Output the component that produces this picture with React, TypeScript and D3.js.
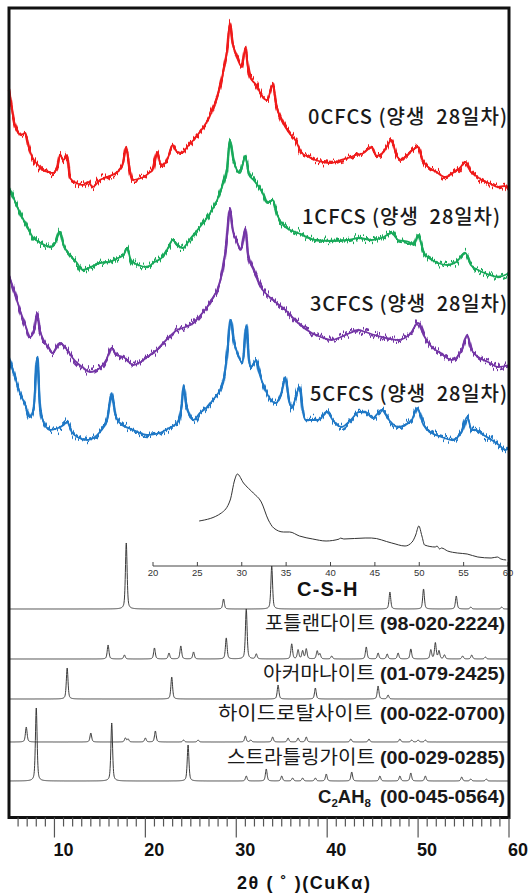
import React from "react";
import * as d3 from "d3";

const W = 529;
const H = 895;

// Measured XRD patterns: [2θ (deg), stacked intensity (a.u.)]
const scan0CFCS: [number, number][] = [
  [5.0, 729], [5.7, 690], [6.3, 682], [6.8, 684], [7.2, 669], [7.6, 659], [8.2, 652], [8.7, 647],
  [9.3, 645], [9.8, 644], [10.3, 649], [10.6, 662], [11.0, 657], [11.4, 662], [11.7, 639], [12.4, 634],
  [13.1, 632], [13.7, 635], [14.2, 630], [15.0, 637], [15.8, 640], [16.9, 645], [17.5, 652], [17.9, 670],
  [18.3, 647], [18.6, 637], [19.2, 638], [19.8, 640], [20.4, 644], [20.8, 647], [21.3, 665], [21.7, 652],
  [22.2, 654], [22.6, 662], [23.0, 672], [23.5, 665], [24.0, 664], [24.6, 670], [25.3, 677], [25.9, 684],
  [26.4, 690], [27.0, 699], [27.5, 710], [27.9, 720], [28.2, 730], [28.6, 747], [29.0, 767], [29.3, 794],
  [29.6, 774], [30.0, 762], [30.6, 750], [31.0, 769], [31.3, 749], [31.5, 740], [32.2, 732], [32.9, 720],
  [33.4, 717], [34.0, 732], [34.4, 712], [35.0, 697], [35.4, 690], [36.0, 682], [36.5, 677], [37.2, 664],
  [38.0, 660], [38.7, 657], [39.5, 655], [40.5, 654], [41.5, 657], [42.3, 659], [43.2, 662], [44.0, 664],
  [44.9, 670], [45.4, 661], [46.2, 665], [47.1, 677], [47.6, 662], [48.2, 657], [48.6, 660], [49.4, 667],
  [50.0, 670], [50.5, 657], [51.1, 650], [52.0, 645], [53.0, 640], [53.8, 644], [54.6, 649], [55.2, 655],
  [55.8, 645], [56.4, 641], [57.0, 637], [58.0, 633], [58.8, 630], [59.5, 631], [60.0, 627],
];

const scan1CFCS: [number, number][] = [
  [5.0, 629], [5.6, 617], [6.2, 604], [6.9, 592], [7.6, 580], [8.5, 574], [9.5, 570], [10.1, 574],
  [10.6, 585], [11.0, 572], [11.7, 562], [12.4, 555], [13.1, 547], [14.0, 550], [15.0, 554], [16.0, 555],
  [17.0, 559], [17.6, 562], [18.0, 569], [18.4, 557], [19.2, 552], [20.2, 550], [21.0, 555], [21.9, 560],
  [22.5, 569], [23.0, 577], [23.5, 572], [24.1, 569], [25.0, 579], [26.0, 590], [27.0, 602], [27.9, 617],
  [28.5, 632], [29.0, 650], [29.3, 677], [29.7, 657], [30.4, 644], [31.0, 660], [31.4, 642], [31.9, 637],
  [32.9, 624], [33.4, 614], [34.0, 617], [34.5, 602], [35.4, 590], [36.8, 584], [38.7, 577], [40.5, 576],
  [42.3, 577], [43.5, 579], [44.9, 577], [46.0, 579], [47.1, 584], [47.8, 577], [49.0, 575], [49.5, 572],
  [50.0, 582], [50.6, 565], [51.2, 559], [52.2, 554], [53.2, 552], [54.2, 555], [55.2, 564], [55.8, 552],
  [56.6, 547], [57.6, 543], [58.8, 540], [60.0, 544],
];

const scan3CFCS: [number, number][] = [
  [5.0, 542], [5.6, 525], [6.2, 507], [6.8, 492], [7.3, 480], [7.8, 487], [8.1, 504], [8.4, 487],
  [8.8, 477], [9.3, 470], [9.8, 464], [10.6, 474], [11.4, 467], [12.0, 459], [12.5, 454], [13.2, 449],
  [13.9, 445], [15.0, 449], [15.7, 457], [16.3, 469], [16.8, 462], [17.6, 460], [18.7, 452], [19.5, 455],
  [20.2, 460], [21.0, 465], [21.6, 470], [22.5, 479], [23.5, 487], [24.4, 490], [25.3, 494], [26.0, 501],
  [26.8, 510], [27.4, 519], [27.9, 527], [28.5, 547], [28.9, 572], [29.3, 607], [29.6, 587], [30.0, 577],
  [30.5, 567], [31.0, 589], [31.3, 562], [31.9, 547], [32.9, 527], [33.2, 524], [34.3, 515], [35.4, 507],
  [36.8, 494], [38.3, 484], [39.3, 480], [40.5, 477], [41.5, 480], [42.5, 484], [43.4, 487], [44.2, 485],
  [45.2, 482], [46.5, 479], [47.8, 477], [49.2, 484], [50.0, 494], [50.6, 482], [51.5, 470], [52.5, 464],
  [53.7, 457], [54.8, 467], [55.4, 482], [55.9, 467], [56.6, 460], [57.7, 455], [58.8, 450], [60.0, 452],
];

const scan5CFCS: [number, number][] = [
  [5.0, 460], [5.6, 442], [6.2, 424], [6.8, 412], [7.3, 400], [7.7, 407], [8.1, 460], [8.4, 412],
  [8.6, 400], [9.5, 387], [10.4, 389], [11.0, 392], [11.4, 395], [11.9, 385], [12.5, 380], [13.6, 377],
  [15.0, 385], [15.8, 397], [16.3, 424], [16.7, 402], [17.2, 394], [18.7, 387], [20.2, 382], [21.6, 384],
  [22.6, 389], [23.5, 394], [24.0, 412], [24.2, 432], [24.5, 412], [25.3, 397], [26.0, 404], [26.8, 410],
  [27.6, 419], [28.2, 427], [28.7, 442], [29.0, 464], [29.4, 497], [29.7, 477], [30.0, 467], [30.7, 454],
  [31.1, 492], [31.4, 457], [31.6, 450], [32.2, 457], [32.5, 445], [32.9, 434], [33.2, 427], [34.3, 414],
  [34.9, 422], [35.4, 440], [35.8, 417], [36.1, 410], [37.0, 430], [37.3, 407], [37.6, 397], [39.0, 397],
  [40.0, 405], [40.6, 397], [41.6, 390], [42.6, 397], [43.5, 405], [44.2, 405], [45.0, 399], [46.0, 407],
  [46.8, 397], [47.8, 390], [49.3, 397], [49.9, 409], [50.6, 392], [51.5, 384], [52.6, 380], [53.7, 377],
  [54.8, 385], [55.4, 400], [55.9, 387], [56.3, 387], [57.2, 382], [58.1, 377], [58.9, 372], [59.6, 367],
  [60.0, 370],
];

const scanNames = ["0CFCS (양생  28일차)", "1CFCS (양생  28일차)", "3CFCS (양생  28일차)", "5CFCS (양생  28일차)"];
const scanColors = ["#ef1a1a", "#18a95a", "#7436a6", "#1f78c6"];

// Reference patterns: [2θ (deg), relative intensity]
const peaksPortlandite: [number, number][] = [
  [17.9, 66], [28.6, 10], [33.9, 43], [46.9, 17], [50.6, 20], [54.2, 13], [55.8, 2], [59.2, 2],
];
const peaksAkermanite: [number, number][] = [
  [15.9, 14], [17.7, 4], [21.0, 11], [22.6, 6], [23.9, 13], [25.3, 7], [28.9, 21], [31.1, 50],
  [32.2, 5], [36.1, 15], [36.8, 9], [37.3, 8], [37.7, 10], [38.9, 8], [39.2, 5], [40.5, 3],
  [44.3, 12], [45.6, 6], [46.6, 5], [47.8, 6], [49.2, 10], [51.4, 9], [51.9, 16], [52.3, 8],
  [52.9, 4], [54.9, 3], [55.9, 4], [57.4, 2],
];
const peaksHydrotalcite: [number, number][] = [
  [11.4, 31], [22.9, 22], [34.6, 14], [38.7, 11], [45.6, 13], [46.7, 4],
];
const peaksStratlingite: [number, number][] = [
  [6.9, 15], [14.0, 9], [17.8, 4], [18.1, 3], [20.0, 4], [21.1, 11], [24.2, 2], [25.8, 2],
  [31.0, 6], [31.6, 2], [34.0, 5], [35.7, 4], [36.8, 4], [37.7, 5], [42.6, 3], [44.6, 3],
  [48.0, 3], [49.3, 2], [50.0, 2], [50.8, 2],
];
const peaksC2AH8: [number, number][] = [
  [8.0, 73], [16.3, 58], [24.7, 36], [31.1, 5], [33.3, 12], [35.0, 5], [36.2, 3], [37.3, 3],
  [38.7, 3], [39.9, 7], [42.7, 9], [45.8, 5], [48.0, 5], [49.2, 8], [50.8, 5], [54.8, 4],
  [55.8, 2], [57.5, 2],
];
const refPatterns = [peaksPortlandite, peaksAkermanite, peaksHydrotalcite, peaksStratlingite, peaksC2AH8];
const refOffsets = [208, 158, 118, 75, 36];

const refNames = ["포틀랜다이트", "아커마나이트", "하이드로탈사이트", "스트라틀링가이트"];
const refCards = ["(98-020-2224)", "(01-079-2425)", "(00-022-0700)", "(00-029-0285)"];

// C-S-H pattern shown in the inset: [2θ (deg), intensity]
const cshScan: [number, number][] = [
  [25.2, 45], [27.7, 53], [28.7, 66], [29.2, 86], [29.5, 92], [30.2, 83], [31.3, 73], [32.2, 64],
  [33.0, 46], [33.6, 38], [34.7, 34], [35.4, 34], [36.5, 30], [38.0, 27], [39.5, 25], [41.0, 27],
  [41.1, 28], [41.5, 27], [43.9, 28], [44.6, 28], [46.9, 23], [48.4, 20], [49.2, 24], [49.6, 31],
  [49.95, 40], [50.3, 30], [50.6, 21], [51.8, 19], [52.0, 20], [52.3, 17], [52.5, 18], [53.2, 15],
  [54.3, 13], [55.4, 12], [56.6, 9], [58.1, 8], [58.8, 9], [59.2, 7], [59.8, 6],
];

const xTicks = [10, 20, 30, 40, 50, 60];
const insetTicks = [20, 25, 30, 35, 40, 45, 50, 55, 60];

// layout
const plot = { left: 9, right: 509, top: 8, bottom: 817.5 };
const sampleLabelPos = [
  { x: 308, y: 124, len: 199 },
  { x: 302, y: 224, len: 198 },
  { x: 310, y: 311, len: 197 },
  { x: 310, y: 401, len: 197 },
];
const refLabelPos = [
  { x: 265, y: 630, len: 110 },
  { x: 263, y: 680, len: 112 },
  { x: 218, y: 720, len: 155 },
  { x: 227, y: 764, len: 148 },
];
const cardLabel = { x: 380, len: 125 };

const x = d3.scaleLinear().domain([5, 60]).range([plot.left, plot.right]);
const y = d3.scaleLinear().domain([0, 810]).range([817, 7]);
const xi = d3.scaleLinear().domain([20, 60]).range([153, 508]);
const yi = d3.scaleLinear().domain([0, 100]).range([566, 466]);

const scanLine = d3
  .line<[number, number]>()
  .x((d) => x(d[0]))
  .y((d) => y(d[1]))
  .curve(d3.curveMonotoneX);

const insetLine = d3
  .line<[number, number]>()
  .x((d) => xi(d[0]))
  .y((d) => yi(d[1]))
  .curve(d3.curveMonotoneX);

// pseudo-Voigt peak profile used to render the stick-pattern cards
function profilePath(peaks: [number, number][], offset: number): string {
  const hw = 0.11;
  const eta = 0.5;
  const grid = d3.range(5, 60.0001, 0.02);
  const pts: [number, number][] = grid.map((t) => {
    let s = 0;
    for (const [p, h] of peaks) {
      const u = (t - p) / hw;
      s += h * (eta / (1 + u * u) + (1 - eta) * Math.exp(-Math.LN2 * u * u));
    }
    return [t, offset + s];
  });
  return d3.line<[number, number]>().x((d) => x(d[0])).y((d) => y(d[1]))(pts) || "";
}

const sans = "'Liberation Sans', Arial, sans-serif";
const kr = "'Noto Sans CJK KR', sans-serif";

export default function App() {
  const minor = d3.range(6, 60, 1).filter((v) => v % 10 !== 0);
  const scans = [scan0CFCS, scan1CFCS, scan3CFCS, scan5CFCS];
  return (
    <svg
      width={W}
      height={H}
      viewBox={`0 0 ${W} ${H}`}
      style={{ position: "absolute", left: 0, top: 0, background: "#fff" }}
    >
      <defs>
        <filter
          id="counting-noise"
          filterUnits="userSpaceOnUse"
          x={0}
          y={0}
          width={W}
          height={H}
          colorInterpolationFilters="sRGB"
        >
          <feTurbulence type="fractalNoise" baseFrequency="0.6 0.02" numOctaves={2} seed={7} result="turb" />
          <feColorMatrix
            in="turb"
            type="matrix"
            values="0 0 0 0 0.5  1 0 0 0 0  0 0 0 0 0  0 0 0 0 1"
            result="map"
          />
          <feDisplacementMap in="SourceGraphic" in2="map" scale={15} xChannelSelector="R" yChannelSelector="G" />
        </filter>
      </defs>

      <rect x={0} y={0} width={W} height={H} fill="#fff" />

      {/* sample scans: trace plus counting-noise texture */}
      {scans.map((s, i) => {
        const d = scanLine(s) || "";
        return (
          <g key={i}>
            <path d={d} fill="none" stroke={scanColors[i]} strokeWidth={1.8} />
            <g filter="url(#counting-noise)">
              <path d={d} fill="none" stroke={scanColors[i]} strokeWidth={2.4} />
            </g>
          </g>
        );
      })}

      {/* sample labels */}
      {scanNames.map((n, i) => (
        <text
          key={n}
          x={sampleLabelPos[i].x}
          y={sampleLabelPos[i].y}
          textLength={sampleLabelPos[i].len}
          lengthAdjust="spacing"
          fontFamily={kr}
          fontSize={20}
          fontWeight={500}
          fill="#1a1a1a"
          style={{ whiteSpace: "pre" }}
        >
          {n}
        </text>
      ))}

      {/* C-S-H inset */}
      <g>
        <line x1={xi(20)} x2={xi(60)} y1={yi(0)} y2={yi(0)} stroke="#444" strokeWidth={1} />
        {insetTicks.map((t) => (
          <g key={t}>
            <line x1={xi(t)} x2={xi(t)} y1={yi(0) - 4} y2={yi(0)} stroke="#444" strokeWidth={1} />
            <text x={xi(t)} y={yi(0) + 10} textAnchor="middle" fontFamily={sans} fontSize={9.5} fill="#333">
              {t}
            </text>
          </g>
        ))}
        <path d={insetLine(cshScan) || ""} fill="none" stroke="#333" strokeWidth={1} />
      </g>

      {/* reference cards */}
      {refPatterns.map((p, i) => (
        <path key={i} d={profilePath(p, refOffsets[i])} fill="none" stroke="#3a3a3a" strokeWidth={1} />
      ))}

      <text x={297} y={596} fontFamily={sans} fontWeight="bold" fontSize={20} letterSpacing={1.2} fill="#111">
        C-S-H
      </text>
      {refNames.map((n, i) => (
        <g key={n}>
          <text
            x={refLabelPos[i].x}
            y={refLabelPos[i].y}
            textLength={refLabelPos[i].len}
            lengthAdjust="spacingAndGlyphs"
            fontFamily={kr}
            fontSize={19}
            fill="#1a1a1a"
          >
            {n}
          </text>
          <text
            x={cardLabel.x}
            y={refLabelPos[i].y}
            textLength={cardLabel.len}
            lengthAdjust="spacingAndGlyphs"
            fontFamily={sans}
            fontWeight="bold"
            fontSize={18.5}
            fill="#1a1a1a"
          >
            {refCards[i]}
          </text>
        </g>
      ))}
      <text x={318} y={803} fontFamily={sans} fontWeight="bold" fontSize={18.5} fill="#1a1a1a">
        C<tspan fontSize={11.5} dy={4}>2</tspan>
        <tspan dy={-4}>AH</tspan>
        <tspan fontSize={11.5} dy={4}>8</tspan>
      </text>
      <text
        x={cardLabel.x}
        y={803}
        textLength={cardLabel.len}
        lengthAdjust="spacingAndGlyphs"
        fontFamily={sans}
        fontWeight="bold"
        fontSize={18.5}
        fill="#1a1a1a"
      >
        (00-045-0564)
      </text>

      {/* frame */}
      <rect
        x={plot.left}
        y={plot.top}
        width={plot.right - plot.left}
        height={plot.bottom - plot.top}
        fill="none"
        stroke="#111"
        strokeWidth={3}
      />

      {/* bottom axis */}
      {minor.map((t) => (
        <line key={t} x1={x(t)} x2={x(t)} y1={plot.bottom} y2={plot.bottom + 9} stroke="#555" strokeWidth={1.2} />
      ))}
      {xTicks.map((t) => (
        <g key={t}>
          <line x1={x(t)} x2={x(t)} y1={plot.bottom} y2={plot.bottom + 20} stroke="#555" strokeWidth={1.2} />
          <text x={x(t) + 9} y={856} textAnchor="middle" fontFamily={sans} fontWeight="bold" fontSize={18} fill="#111">
            {t}
          </text>
        </g>
      ))}
      <text x={237} y={889} textLength={133} lengthAdjust="spacing" fontFamily={sans} fontWeight="bold" fontSize={18} fill="#111">
        2θ ( ˚ )(CuKα)
      </text>
    </svg>
  );
}
